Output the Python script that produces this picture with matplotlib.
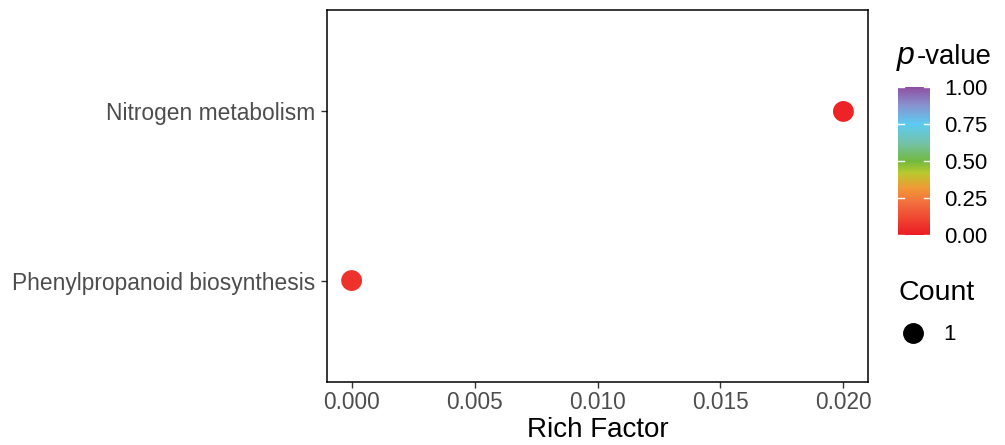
import matplotlib
matplotlib.use("Agg")
import matplotlib.pyplot as plt
from matplotlib.colors import LinearSegmentedColormap, Normalize
from matplotlib.lines import Line2D
import matplotlib.colorbar as mcb

plt.rcParams['font.family'] = ['Liberation Sans', 'DejaVu Sans']

pathways = ["Phenylpropanoid biosynthesis", "Nitrogen metabolism"]
rich_factor = [0.0, 0.02]
p_values = [0.06, 0.02]
counts = [1, 1]
x_ticks = [0.000, 0.005, 0.010, 0.015, 0.020]
cbar_ticks = [0.0, 0.25, 0.5, 0.75, 1.0]

cmap = LinearSegmentedColormap.from_list(
    "pv",
    [(0.0, "#EC1C24"), (0.22, "#F2703E"), (0.32, "#F09A35"), (0.42, "#B9C92E"),
     (0.5, "#72B93E"), (0.62, "#74C2A8"), (0.75, "#5CCBF0"), (0.88, "#8891CF"),
     (1.0, "#8E4FA2")])
norm = Normalize(0, 1)

fig = plt.figure(figsize=(10.05, 4.45), dpi=100)
ax = fig.add_axes([327/1005, 1-382/445, (868-327)/1005, (382-10)/445])

ypos = list(range(1, len(pathways)+1))
ax.scatter(rich_factor, ypos, c=p_values, cmap=cmap, norm=norm, s=[c*225 for c in counts],
           edgecolors='none', zorder=3)
ax.set_ylim(0.4, len(pathways)+0.6)
ax.set_yticks(ypos)
ax.set_yticklabels(pathways, fontsize=16.4, color='#4D4D4D')
ax.set_xlim(-0.001, 0.021)
ax.set_xticks(x_ticks)
ax.set_xticklabels([f"{t:.3f}" for t in x_ticks], fontsize=16.3, color='#4D4D4D')
ax.set_xlabel("Rich Factor", fontsize=20, color='black', labelpad=2)
for s in ax.spines.values():
    s.set_color('black')
    s.set_linewidth(1.1)
ax.tick_params(axis='both', length=4, width=1.0, color='#333333', pad=2.5)
ax.tick_params(axis='y', pad=4.2)

# colorbar
cax = fig.add_axes([898/1005, 1-238/445, 32/1005, 154/445])
cb = mcb.ColorbarBase(cax, cmap=cmap, norm=norm, orientation='vertical')
cb.outline.set_visible(False)
cb.set_ticks(cbar_ticks)
cb.set_ticklabels([f"{t:.2f}" for t in cbar_ticks])
cax.tick_params(length=0, labelsize=16, pad=10.5, colors='black')
for t in cbar_ticks:
    cax.plot([0, 0.2], [t, t], color='white', lw=1, transform=cax.get_yaxis_transform())
    cax.plot([0.8, 1.0], [t, t], color='white', lw=1, transform=cax.get_yaxis_transform())
cax.set_ylim(-0.02, 1.02)
fig.text(897/1005, 1-64/445, "p", fontsize=23, fontstyle='italic', va='baseline', ha='left')
fig.text(917/1005, 1-64/445, "-value", fontsize=19.8, va='baseline', ha='left')

# size legend
fig.text(899/1005, 1-293/445, "Count", fontsize=20.5, va='center', ha='left')
h = Line2D([], [], marker='o', linestyle='none', markersize=14, color='black')
leg = fig.legend([h], [str(counts[0])], loc='center left',
                 bbox_to_anchor=(900/1005, 1-335/445), frameon=False,
                 fontsize=16, handletextpad=0.75, borderpad=0, handlelength=1.2,
                 borderaxespad=0)

fig.savefig("out.png", dpi=100)
